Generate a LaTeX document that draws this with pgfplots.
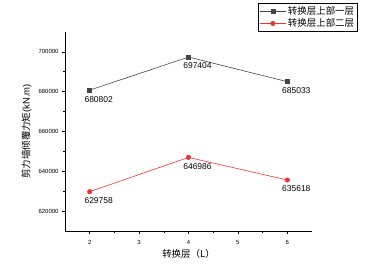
\documentclass[border=0pt]{standalone}
\usepackage{pgfplots}
\pgfplotsset{compat=1.18}
\usepackage{fontspec}
\setmainfont{Liberation Sans}
\newfontfamily\cjk{Noto Sans CJK SC}
\definecolor{sgray}{RGB}{68,68,68}
\definecolor{sred}{RGB}{238,50,50}
\begin{document}
\begin{tikzpicture}
\path[use as bounding box] (-65bp,-48bp) rectangle (300bp,231bp);
\begin{axis}[
  at={(0,0)}, anchor=origin,
  scale only axis,
  width=247bp, height=199bp,
  xmin=1.5, xmax=6.5,
  ymin=610000, ymax=710000,
  xtick={2,3,4,5,6},
  ytick={620000,640000,660000,680000,700000},
  scaled ticks=false,
  minor x tick num=1,
  minor y tick num=1,
  axis lines=left,
  axis line style={-, line width=0.8pt},
  tick align=outside,
  major tick length=3bp,
  minor tick length=2bp,
  tick style={black, line width=0.6pt},
  /pgf/number format/assume math mode=true,
  /pgf/number format/.cd, fixed, 1000 sep={},
  /pgfplots/.cd,
  tick label style={font=\fontsize{6}{7}\selectfont},
  xticklabel style={yshift=-3bp},
  xlabel={\cjk 转换层（L）},
  ylabel={\cjk 剪力墙倾覆力矩\rmfamily(kN.m)},
  label style={font=\fontsize{9.5}{10}\selectfont},
  xlabel style={yshift=2bp},
  ylabel style={yshift=0bp},
  legend style={at={(1.186,1.146)}, anchor=north east, draw=black, line width=0.6pt,
    font=\cjk\fontsize{9.5}{10.5}\selectfont, inner sep=1.5bp, row sep=-1.5bp,
    legend cell align=left},
  legend image code/.code={
    \draw[#1, line width=0.6pt] (0cm,0cm) -- (0.9cm,0cm);
    \draw[#1, line width=0.6pt] plot coordinates {(0.45cm,0cm)};
  },
  nodes near coords,
  nodes near coords style={font=\fontsize{8.5}{10}\selectfont, text=black, anchor=center, xshift=9bp, yshift=-9bp,
    /pgf/number format/.cd, fixed, 1000 sep={}, precision=0},
]
\addplot[color=sgray, line width=0.6pt, mark=square*, mark size=2bp, mark options={fill=sgray}]
  coordinates {(2,680802) (4,697404) (6,685033)};
\addlegendentry{转换层上部一层}
\addplot[color=sred, line width=0.6pt, mark=*, mark size=2.2bp, mark options={fill=sred}]
  coordinates {(2,629758) (4,646986) (6,635618)};
\addlegendentry{转换层上部二层}
\end{axis}
\end{tikzpicture}
\end{document}
